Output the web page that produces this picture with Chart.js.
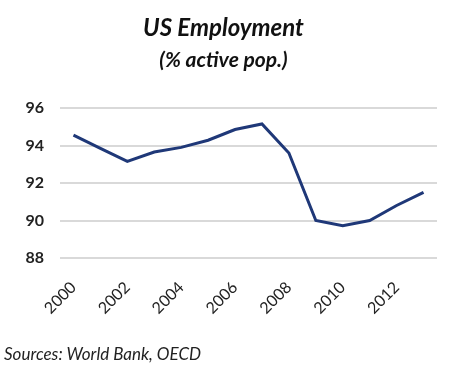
<!DOCTYPE html>
<html>
<head>
<meta charset="utf-8">
<script src="https://cdn.jsdelivr.net/npm/chart.js@4"></script>
<style>
  body { margin: 0; background: #fff; }
  #wrap { position: relative; width: 450px; height: 376px; }
  #source { position: absolute; left: 4px; top: 343px; font: italic 17px Lato, sans-serif; color: #222; }
</style>
</head>
<body>
<div id="wrap">
  <canvas id="chart" width="450" height="376"></canvas>
  <div id="source">Sources: World Bank, OECD</div>
</div>
<script>
// Data
const years = ['2000', '2001', '2002', '2003', '2004', '2005', '2006', '2007', '2008', '2009', '2010', '2011', '2012', '2013'];
const employment = [94.55, 93.85, 93.15, 93.65, 93.9, 94.28, 94.85, 95.15, 93.6, 90.0, 89.72, 90.0, 90.8, 91.5];
const yTicks = [88, 90, 92, 94, 96];

new Chart(document.getElementById('chart'), {
  type: 'line',
  data: {
    labels: years,
    datasets: [{
      label: 'US Employment',
      data: employment,
      borderColor: '#1f3878',
      borderWidth: 3,
      pointRadius: 0,
      tension: 0,
      fill: false
    }]
  },
  options: {
    responsive: false,
    animation: false,
    layout: { padding: { left: 10, right: 13, top: 4, bottom: 0 } },
    plugins: {
      legend: { display: false },
      tooltip: { enabled: false },
      title: {
        display: true,
        text: 'US Employment',
        color: '#111',
        font: { family: 'Lato', size: 24, weight: 'bold', style: 'italic' },
        padding: { top: 10, bottom: 3 }
      },
      subtitle: {
        display: true,
        text: '(% active pop.)',
        color: '#111',
        font: { family: 'Lato', size: 21, weight: 'bold', style: 'italic' },
        padding: { top: 2, bottom: 35 }
      }
    },
    scales: {
      x: {
        offset: true,
        grid: { display: false },
        border: { display: false },
        afterFit: function(scale) { scale.height = 118; },
        ticks: {
          autoSkip: false,
          minRotation: 45,
          maxRotation: 45,
          padding: 12,
          color: '#222',
          font: { family: 'Lato', size: 16 },
          callback: function(value, index) {
            return index % 2 === 0 ? years[index] : '';
          }
        }
      },
      y: {
        min: yTicks[0],
        max: yTicks[yTicks.length - 1],
        afterFit: function(scale) { scale.width = 50; },
        afterBuildTicks: function(scale) {
          scale.ticks = yTicks.map(v => ({ value: v }));
        },
        grid: { color: '#d9d9d9', lineWidth: 2, drawTicks: false },
        border: { display: false },
        ticks: {
          padding: 16,
          color: '#222',
          font: { family: 'Lato', size: 16, weight: 'bold' }
        }
      }
    }
  }
});
</script>
</body>
</html>
